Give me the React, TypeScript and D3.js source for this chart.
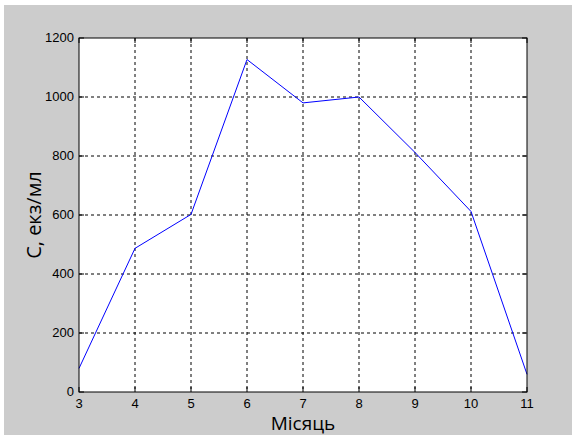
import React from 'react';
import * as d3 from 'd3';

const months = [3, 4, 5, 6, 7, 8, 9, 10, 11];
const values = [80, 487, 602, 1127, 980, 1000, 812, 612, 60];
const xTicks = [3, 4, 5, 6, 7, 8, 9, 10, 11];
const yTicks = [0, 200, 400, 600, 800, 1000, 1200];

const W = 572;
const H = 435;
const m = { left: 79, top: 38, right: 527, bottom: 392 };

const App = () => {
  const x = d3.scaleLinear().domain([3, 11]).range([m.left, m.right]);
  const y = d3.scaleLinear().domain([0, 1200]).range([m.bottom, m.top]);

  const line = d3
    .line<number>()
    .x((_, i) => x(months[i]))
    .y((d) => y(d));

  return (
    <svg width={W} height={H} style={{ position: 'absolute', left: 0, top: 0 }}>
      <rect x={4} y={5} width={W - 4} height={H - 5} fill="#cccccc" />
      <rect x={m.left} y={m.top} width={m.right - m.left} height={m.bottom - m.top} fill="#ffffff" />
      {/* grid */}
      {xTicks.slice(1, -1).map((t) => (
        <line key={'gx' + t} x1={x(t)} x2={x(t)} y1={m.top} y2={m.bottom} stroke="#000" strokeWidth={1} strokeDasharray="3,3" />
      ))}
      {yTicks.slice(1, -1).map((t) => (
        <line key={'gy' + t} x1={m.left} x2={m.right} y1={y(t)} y2={y(t)} stroke="#000" strokeWidth={1} strokeDasharray="3,3" />
      ))}
      {/* ticks */}
      {xTicks.map((t) => (
        <g key={'tx' + t}>
          <line x1={x(t)} x2={x(t)} y1={m.bottom} y2={m.bottom - 5} stroke="#000" />
          <line x1={x(t)} x2={x(t)} y1={m.top} y2={m.top + 5} stroke="#000" />
          <text x={x(t)} y={m.bottom + 16} textAnchor="middle" fontFamily="Liberation Sans, Arial" fontSize={13} fill="#000">
            {t}
          </text>
        </g>
      ))}
      {yTicks.map((t) => (
        <g key={'ty' + t}>
          <line x1={m.left} x2={m.left + 5} y1={y(t)} y2={y(t)} stroke="#000" />
          <line x1={m.right} x2={m.right - 5} y1={y(t)} y2={y(t)} stroke="#000" />
          <text x={m.left - 5} y={y(t) + 4} textAnchor="end" fontFamily="Liberation Sans, Arial" fontSize={13} fill="#000">
            {t}
          </text>
        </g>
      ))}
      <path d={line(values) || ''} fill="none" stroke="#0000ff" strokeWidth={1} />
      <rect x={m.left} y={m.top} width={m.right - m.left} height={m.bottom - m.top} fill="none" stroke="#000" strokeWidth={1} />
      <text x={(m.left + m.right) / 2} y={430} textAnchor="middle" fontFamily="Open Sans, Noto Sans" fontSize={19} fill="#000">
        Місяць
      </text>
      <text
        transform={`translate(41, ${(m.top + m.bottom) / 2}) rotate(-90)`}
        textAnchor="middle"
        fontFamily="Open Sans, Noto Sans"
        fontSize={20}
        fill="#000"
      >
        С, екз/мл
      </text>
    </svg>
  );
};

export default App;
